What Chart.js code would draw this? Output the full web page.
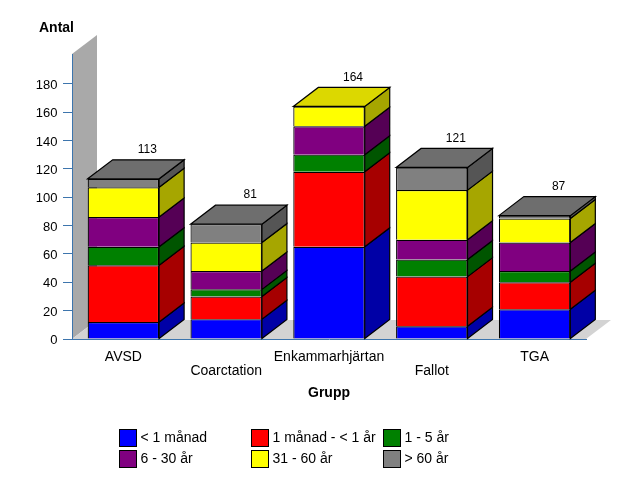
<!DOCTYPE html>
<html>
<head>
<meta charset="utf-8">
<style>
  html, body { margin: 0; padding: 0; background: #fff; }
  canvas { display: block; }
</style>
<script src="https://cdn.jsdelivr.net/npm/chart.js@4"></script>
</head>
<body>
<canvas id="chart" width="640" height="480"></canvas>
<script>
const categories = ["AVSD", "Coarctation", "Enkammarhjärtan", "Fallot", "TGA"];
const yTickValues = [0, 20, 40, 60, 80, 100, 120, 140, 160, 180];
const seriesNames = ["< 1 månad", "1 månad - < 1 år", "1 - 5 år", "6 - 30 år", "31 - 60 år", "> 60 år"];
const under1Month = [12, 14, 65, 9, 21];
const month1To1Year = [40, 16, 53, 35, 19];
const years1To5 = [13, 5, 12, 12, 8];
const years6To30 = [21, 13, 20, 14, 20];
const years31To60 = [21, 20, 14, 35, 17];
const over60 = [6, 13, 0, 16, 2];
const totals = [113, 81, 164, 121, 87];

const seriesValues = [under1Month, month1To1Year, years1To5, years6To30, years31To60, over60];
const frontColors = ["#0000ff", "#ff0000", "#008000", "#800080", "#ffff00", "#808080"];
const sideColors = ["#0000a6", "#a60000", "#005500", "#550055", "#a6a600", "#555555"];
const topColors = ["#0000d9", "#d90000", "#006d00", "#6d006d", "#dcd800", "#6e6e6e"];

const FONT = '"Liberation Sans", Arial, sans-serif';
const AXIS_COLOR = "#3d75ad";
// 3D offset of the bars and the back wall
const DX = 25, DY = 19;

function poly(ctx, pts, fill, stroke) {
    ctx.beginPath();
    ctx.moveTo(pts[0][0], pts[0][1]);
    for (let i = 1; i < pts.length; i++) ctx.lineTo(pts[i][0], pts[i][1]);
    ctx.closePath();
    ctx.fillStyle = fill;
    ctx.fill();
    if (stroke) {
        ctx.strokeStyle = stroke;
        ctx.lineWidth = 1.2;
        ctx.stroke();
    }
}

// Wall and floor behind the axes
const backdrop = {
    id: "backdrop",
    beforeDraw(chart) {
        const { ctx, chartArea: a } = chart;
        poly(ctx, [[a.left, a.top], [a.left + DX, a.top - DY], [a.left + DX, a.bottom - DY], [a.left, a.bottom]], "#a9a9a9");
        poly(ctx, [[a.left, a.bottom], [a.left + DX, a.bottom - DY], [a.right + DX, a.bottom - DY], [a.right, a.bottom]], "#d3d3d3");
    }
};

// Side and top faces of each stack, totals, tick labels, axis titles, legend
const extras = {
    id: "extras",
    afterDatasetsDraw(chart) {
        const { ctx, scales } = chart;
        categories.forEach((cat, i) => {
            let topEl = null, topIdx = 0;
            seriesValues.forEach((vals, s) => {
                if (!vals[i]) return;
                const el = chart.getDatasetMeta(s).data[i];
                const right = el.x + el.width / 2;
                poly(ctx, [[right, el.y], [right + DX, el.y - DY], [right + DX, el.base - DY], [right, el.base]], sideColors[s], "#000");
                topEl = el;
                topIdx = s;
            });
            const left = topEl.x - topEl.width / 2, right = topEl.x + topEl.width / 2, y = topEl.y;
            poly(ctx, [[left, y], [left + DX, y - DY], [right + DX, y - DY], [right, y]], topColors[topIdx], "#000");
            ctx.fillStyle = "#000";
            ctx.font = "12px " + FONT;
            ctx.textAlign = "center";
            ctx.textBaseline = "middle";
            ctx.fillText(String(totals[i]), topEl.x + DX - 1, scales.y.getPixelForValue(totals[i]) - DY - 10);
        });

        // y tick labels sit a little lower than the scale would put them
        ctx.fillStyle = "#000";
        ctx.font = "13px " + FONT;
        ctx.textAlign = "right";
        yTickValues.forEach(v => ctx.fillText(String(v), 57.5, scales.y.getPixelForValue(v) + 1.5));

        ctx.font = "bold 14px " + FONT;
        ctx.textAlign = "left";
        ctx.fillText("Antal", 39, 28.5);
        ctx.textAlign = "center";
        ctx.fillText("Grupp", 329, 393.5);

        ctx.font = "14px " + FONT;
        ctx.textAlign = "left";
        seriesNames.forEach((name, s) => {
            const x = 119.5 + 132 * (s % 3);
            const y = 429.5 + 21 * Math.floor(s / 3);
            ctx.fillStyle = frontColors[s];
            ctx.strokeStyle = "#000";
            ctx.lineWidth = 1;
            ctx.fillRect(x, y, 17, 17);
            ctx.strokeRect(x, y, 17, 17);
            ctx.fillStyle = "#000";
            ctx.fillText(name, x + 21, y + 9);
        });
    }
};

new Chart(document.getElementById("chart").getContext("2d"), {
    type: "bar",
    data: {
        // every second label sits on a lower line
        labels: categories.map((c, i) => (i % 2 ? ["", c] : c)),
        datasets: seriesNames.map((name, s) => ({
            label: name,
            data: seriesValues[s],
            backgroundColor: frontColors[s],
            borderColor: "#000",
            borderWidth: 1.2,
            barPercentage: 0.695,
            categoryPercentage: 1
        }))
    },
    plugins: [backdrop, extras],
    options: {
        responsive: false,
        animation: false,
        layout: { padding: { top: 54, right: 54, left: 0, bottom: 0 } },
        plugins: { legend: { display: false }, tooltip: { enabled: false }, title: { display: false } },
        scales: {
            x: {
                stacked: true,
                grid: { display: false },
                border: { color: AXIS_COLOR, width: 1 },
                afterFit(scale) { scale.height = 141; },
                ticks: { color: "#000", font: { family: FONT, size: 14, lineHeight: 1 }, padding: 3, maxRotation: 0, autoSkip: false }
            },
            y: {
                stacked: true,
                min: 0,
                max: 201,
                afterFit(scale) { scale.width = 72; },
                afterBuildTicks(scale) { scale.ticks = yTickValues.map(v => ({ value: v })); },
                grid: { drawOnChartArea: false, tickLength: 9, tickColor: AXIS_COLOR, tickWidth: 1 },
                border: { color: AXIS_COLOR, width: 1 },
                ticks: { callback: () => "", padding: 5 }
            }
        }
    }
});
</script>
</body>
</html>
